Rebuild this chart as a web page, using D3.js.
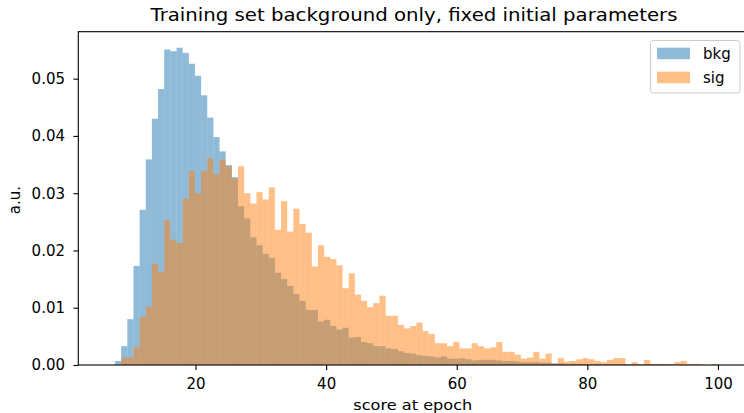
<!DOCTYPE html>
<html>
<head>
  <meta charset="utf-8">
  <script src="https://cdn.jsdelivr.net/npm/d3@7"></script>
  <style>
    body { margin: 0; background: #fff; }
    svg { display: block; font-family: "DejaVu Sans", sans-serif; }
  </style>
</head>
<body>
  <svg width="744" height="413"></svg>
  <script>
    // histogram bins (100 equal bins)
    var binStart = 6.73;
    var binWidth = 0.9417;

    // normalised bin contents
    var bkg = [
      0, 0.0007, 0.0033, 0.0080, 0.0173, 0.0271, 0.0359, 0.0430, 0.0482, 0.0551,
      0.0548, 0.0554, 0.0545, 0.0526, 0.0505, 0.0471, 0.0432, 0.0398, 0.0373, 0.0349,
      0.0328, 0.0277, 0.0256, 0.0223, 0.0209, 0.0194, 0.0187, 0.0161, 0.0150, 0.0138,
      0.0124, 0.0112, 0.0096, 0.0096, 0.0076, 0.0079, 0.0068, 0.0062, 0.0065, 0.0048,
      0.0049, 0.0040, 0.0038, 0.0033, 0.0033, 0.0029, 0.0028, 0.0024, 0.0021, 0.0020,
      0.0017, 0.0016, 0.0015, 0.0013, 0.0015, 0.0011, 0.0011, 0.0012, 0.0010, 0.0008,
      0.0009, 0.0009, 0.0009, 0.0008, 0.0007, 0.0007, 0.0006, 0.0005, 0.0005, 0.0005,
      0.0004, 0.0004, 0.0003, 0.0003, 0.0002, 0.0002, 0.0002, 0.0002, 0.0001, 0.0002,
      0.0001, 0.0001, 0.0001, 0.0001, 0.0001, 0.0001, 0.0001, 0.0001, 0.0001, 0.0001,
      0.0001, 0, 0, 0, 0, 0, 0, 0, 0, 0
    ];

    var sig = [
      0, 0, 0.0013, 0.0013, 0.0031, 0.0084, 0.0102, 0.0177, 0.0163, 0.0253,
      0.0219, 0.0213, 0.0290, 0.0339, 0.0300, 0.0339, 0.0361, 0.0333, 0.0359, 0.0347,
      0.0326, 0.0347, 0.0300, 0.0282, 0.0302, 0.0289, 0.0310, 0.0236, 0.0286, 0.0233,
      0.0273, 0.0246, 0.0231, 0.0172, 0.0209, 0.0189, 0.0185, 0.0174, 0.0134, 0.0160,
      0.0123, 0.0112, 0.0101, 0.0108, 0.0121, 0.0086, 0.0086, 0.0070, 0.0064, 0.0068,
      0.0074, 0.0059, 0.0054, 0.0038, 0.0038, 0.0033, 0.0040, 0.0029, 0.0029, 0.0038,
      0.0033, 0.0029, 0.0031, 0.0040, 0.0023, 0.0023, 0.0018, 0.0011, 0.0013, 0.0023,
      0.0011, 0.0020, 0.0002, 0.0012, 0.0006, 0.0007, 0.0010, 0.0012, 0.0010, 0.0007,
      0.0005, 0.0009, 0.0012, 0.0012, 0.0001, 0.0005, 0.0001, 0.0009, 0.0002, 0.0002,
      0.0001, 0.0002, 0.0005, 0.0007, 0.0002, 0.0002, 0.0001, 0, 0.0002, 0
    ];

    var xTicks = [20, 40, 60, 80, 100];
    var yTicks = [0, 0.01, 0.02, 0.03, 0.04, 0.05];
    var seriesNames = ["bkg", "sig"];
    var seriesColours = ["#1f77b4", "#ff7f0e"];

    var svg = d3.select("svg");
    var plotLeft = 78.3, plotRight = 748, plotTop = 31.7, plotBottom = 365;

    var x = d3.scaleLinear().domain([2.05, 104.6]).range([plotLeft, plotRight]);
    var y = d3.scaleLinear().domain([0, 0.0582]).range([plotBottom, plotTop]);

    //draw the two histograms, sig on top
    [bkg, sig].forEach(function(values, i) {
      svg.append("g")
        .selectAll("rect")
        .data(values)
        .enter()
        .append("rect")
        .attr("x", function(d, k) { return x(binStart + k * binWidth); })
        .attr("width", function(d, k) { return x(binStart + (k + 1) * binWidth) - x(binStart + k * binWidth); })
        .attr("y", function(d) { return y(d); })
        .attr("height", function(d) { return y(0) - y(d); })
        .attr("fill", seriesColours[i])
        .attr("fill-opacity", 0.5);
    });

    //axes
    var xAxis = svg.append("g")
      .attr("transform", "translate(0," + plotBottom + ")")
      .call(d3.axisBottom(x).tickValues(xTicks).tickSize(4.9).tickPadding(8).tickFormat(d3.format("d")));
    var yAxis = svg.append("g")
      .attr("transform", "translate(" + plotLeft + ",0)")
      .call(d3.axisLeft(y).tickValues(yTicks).tickSize(4.9).tickPadding(8.4).tickFormat(d3.format(".2f")));

    [xAxis, yAxis].forEach(function(a) {
      a.select(".domain").remove();
      a.selectAll("line").attr("stroke", "#000").attr("stroke-width", 1.1);
      a.selectAll("text")
        .attr("fill", "#000")
        .style("font-family", "DejaVu Sans")
        .style("font-size", "15px");
    });

    //frame
    svg.append("rect")
      .attr("x", plotLeft).attr("y", plotTop)
      .attr("width", plotRight - plotLeft).attr("height", plotBottom - plotTop)
      .attr("fill", "none")
      .attr("stroke", "#000")
      .attr("stroke-width", 1.1);

    //labels
    svg.append("text")
      .attr("x", 150.5).attr("y", 20.7)
      .attr("textLength", 527)
      .attr("lengthAdjust", "spacingAndGlyphs")
      .style("font-size", "18.4px")
      .text("Training set background only, fixed initial parameters");

    svg.append("text")
      .attr("x", 353.3).attr("y", 409.5)
      .attr("textLength", 119)
      .attr("lengthAdjust", "spacingAndGlyphs")
      .style("font-size", "14.8px")
      .text("score at epoch");

    svg.append("text")
      .attr("transform", "translate(20,200) rotate(-90)")
      .attr("text-anchor", "middle")
      .style("font-size", "15px")
      .text("a.u.");

    //legend
    var legend = svg.append("g");
    legend.append("rect")
      .attr("x", 650.5).attr("y", 40.5)
      .attr("width", 89.5).attr("height", 52.5)
      .attr("rx", 3)
      .attr("fill", "#fff").attr("fill-opacity", 0.8)
      .attr("stroke", "#cccccc").attr("stroke-width", 1);

    seriesNames.forEach(function(name, i) {
      legend.append("rect")
        .attr("x", 657).attr("y", 47.7 + i * 24)
        .attr("width", 33).attr("height", 11.5)
        .attr("fill", seriesColours[i]).attr("fill-opacity", 0.5);
      legend.append("text")
        .attr("x", 703).attr("y", 59.3 + i * 24)
        .style("font-size", "15px")
        .text(name);
    });
  </script>
</body>
</html>
